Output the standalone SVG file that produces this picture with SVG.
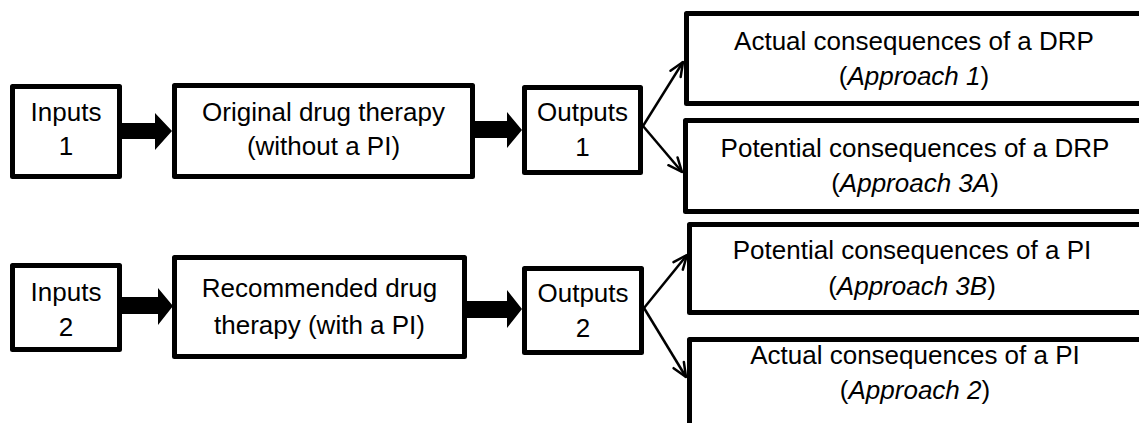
<svg xmlns="http://www.w3.org/2000/svg" width="1139" height="423" viewBox="0 0 1139 423">
<style>
.box{fill:#fff;stroke:#000;stroke-width:5;stroke-linejoin:round}
.t{font-family:"Liberation Sans",Arial,sans-serif;font-size:26px;fill:#000;text-anchor:middle}
.i{font-style:italic}
.thin{fill:none;stroke:#000;stroke-width:2.5}
.block{fill:#000;stroke:none}
</style>
<defs>
<marker id="open" viewBox="-16 -8 18 16" refX="0" refY="0" markerWidth="18" markerHeight="16" markerUnits="userSpaceOnUse" orient="auto">
<path d="M-14,-6 L0,0 L-14,6" fill="none" stroke="#000" stroke-width="2.5" stroke-linecap="round" stroke-linejoin="round"/>
</marker>
</defs>
<rect width="1139" height="423" fill="#fff"/>

<g id="connectors">
<polygon class="block" points="122,123 155,123 155,113 172,131 155,150 155,139 122,139"/>
<polygon class="block" points="475,121 507,121 507,112 522,130 507,148 507,138 475,138"/>
<polygon class="block" points="122,297 158,297 158,288 173,306 158,325 158,314 122,314"/>
<polygon class="block" points="467,301 507,301 507,290 522,309 507,328 507,318 467,318"/>
<line class="thin" x1="643" y1="126" x2="683" y2="62" marker-end="url(#open)"/>
<line class="thin" x1="643" y1="126" x2="682" y2="172" marker-end="url(#open)"/>
<line class="thin" x1="644" y1="308" x2="687" y2="255" marker-end="url(#open)"/>
<line class="thin" x1="644" y1="308" x2="686" y2="377" marker-end="url(#open)"/>
</g>

<g id="inputs1">
<rect class="box" x="12.5" y="86.5" width="107" height="90"/>
<text class="t" x="66" y="121">Inputs</text>
<text class="t" x="66" y="155">1</text>
</g>
<g id="original">
<rect class="box" x="174.5" y="85.5" width="298" height="91"/>
<text class="t" x="323.5" y="121">Original drug therapy</text>
<text class="t" x="323.5" y="155">(without a PI)</text>
</g>
<g id="outputs1">
<rect class="box" x="524.5" y="87.5" width="116" height="85"/>
<text class="t" x="582.5" y="121">Outputs</text>
<text class="t" x="582.5" y="156">1</text>
</g>

<g id="inputs2">
<rect class="box" x="12.5" y="265.5" width="107" height="84"/>
<text class="t" x="66" y="301">Inputs</text>
<text class="t" x="66" y="336">2</text>
</g>
<g id="recommended">
<rect class="box" x="174.5" y="257.5" width="290" height="99"/>
<text class="t" x="319.5" y="297">Recommended drug</text>
<text class="t" x="319.5" y="334">therapy (with a PI)</text>
</g>
<g id="outputs2">
<rect class="box" x="524.5" y="268.5" width="117" height="84"/>
<text class="t" x="583" y="302">Outputs</text>
<text class="t" x="583" y="337">2</text>
</g>

<g id="approach1">
<rect class="box" x="686.5" y="13.5" width="470" height="90"/>
<text class="t" x="914" y="50">Actual consequences of a DRP</text>
<text class="t" x="914" y="85">(<tspan class="i">Approach 1</tspan>)</text>
</g>
<g id="approach3a">
<rect class="box" x="685.5" y="120.5" width="470" height="91"/>
<text class="t" x="915" y="157">Potential consequences of a DRP</text>
<text class="t" x="915" y="192">(<tspan class="i">Approach 3A</tspan>)</text>
</g>
<g id="approach3b">
<rect class="box" x="689.5" y="224.5" width="470" height="88"/>
<text class="t" x="912" y="259">Potential consequences of a PI</text>
<text class="t" x="912" y="295">(<tspan class="i">Approach 3B</tspan>)</text>
</g>
<g id="approach2">
<rect class="box" x="689.5" y="339.5" width="470" height="100"/>
<text class="t" x="915" y="364">Actual consequences of a PI</text>
<text class="t" x="915" y="399">(<tspan class="i">Approach 2</tspan>)</text>
</g>
</svg>
